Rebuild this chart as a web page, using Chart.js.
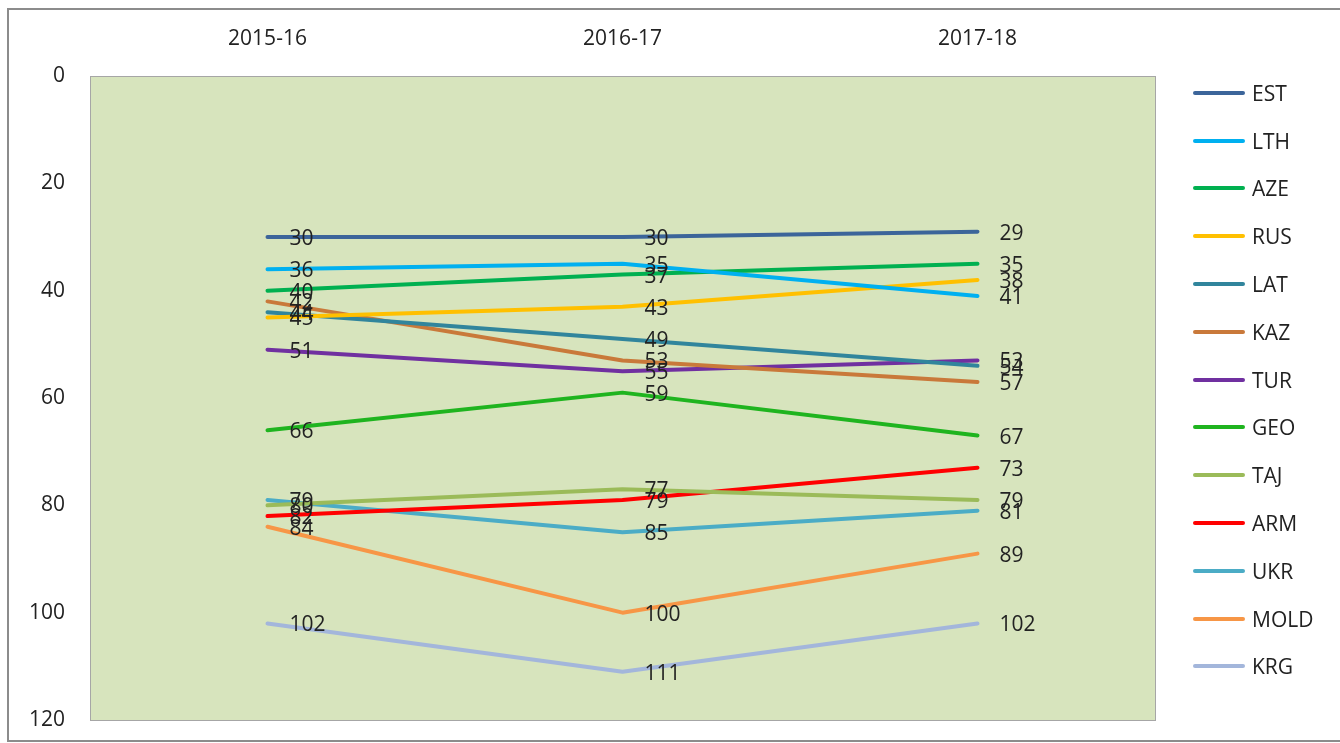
<!DOCTYPE html>
<html>
<head>
<meta charset="utf-8">
<script src="https://cdn.jsdelivr.net/npm/chart.js@4.4.1/dist/chart.umd.min.js"></script>
<style>
  html, body { margin: 0; padding: 0; background: #fff; }
  #wrap { position: relative; width: 1340px; height: 743px; }
  #frame { position: absolute; left: 7px; top: 8px; width: 1340px; height: 734px; border: 2px solid #8c8c8c; box-sizing: border-box; pointer-events: none; }
  #legend { position: absolute; left: 1193px; top: 69px; font-family: "Open Sans", sans-serif; font-size: 21px; color: #222; }
  .item { height: 47.8px; display: flex; align-items: center; }
  .swatch { width: 52px; height: 4px; border-radius: 2px; margin-right: 7px; }
</style>
</head>
<body>
<div id="wrap">
  <canvas id="c" width="1340" height="743"></canvas>
  <div id="frame"></div>
  <div id="legend"></div>
</div>
<script>
const categories = ["2015-16", "2016-17", "2017-18"];
const seriesNames = ["EST", "LTH", "AZE", "RUS", "LAT", "KAZ", "TUR", "GEO", "TAJ", "ARM", "UKR", "MOLD", "KRG"];
const EST  = [30, 30, 29];
const LTH  = [36, 35, 41];
const AZE  = [40, 37, 35];
const RUS  = [45, 43, 38];
const LAT  = [44, 49, 54];
const KAZ  = [42, 53, 57];
const TUR  = [51, 55, 53];
const GEO  = [66, 59, 67];
const TAJ  = [80, 77, 79];
const ARM  = [82, 79, 73];
const UKR  = [79, 85, 81];
const MOLD = [84, 100, 89];
const KRG  = [102, 111, 102];
const seriesValues = [EST, LTH, AZE, RUS, LAT, KAZ, TUR, GEO, TAJ, ARM, UKR, MOLD, KRG];
const yTicks = [0, 20, 40, 60, 80, 100, 120];
const colors = ["#3C659A", "#00B0F0", "#00B050", "#FFC000", "#31859C", "#C9793A", "#7030A0", "#1FB41F", "#9BBB59", "#FF0000", "#4BACC6", "#F79646", "#A3B6DB"];

const FONT = "'Open Sans', sans-serif";

const bgPlugin = {
  id: 'bg',
  beforeDraw(chart) {
    const {ctx, chartArea: a} = chart;
    ctx.save();
    ctx.fillStyle = '#D7E4BD';
    ctx.fillRect(a.left, a.top, a.right - a.left, a.bottom - a.top);
    ctx.strokeStyle = '#a6a6a6';
    ctx.lineWidth = 1;
    ctx.strokeRect(a.left + 0.5, a.top + 0.5, a.right - a.left, a.bottom - a.top);
    ctx.restore();
  }
};

const labelPlugin = {
  id: 'dlabels',
  afterDatasetsDraw(chart) {
    const ctx = chart.ctx;
    ctx.save();
    ctx.font = "21px " + FONT;
    ctx.fillStyle = '#222';
    ctx.textAlign = 'left';
    ctx.textBaseline = 'middle';
    chart.data.datasets.forEach((ds, i) => {
      const meta = chart.getDatasetMeta(i);
      meta.data.forEach((pt, j) => {
        ctx.fillText(String(ds.data[j]), pt.x + 22, pt.y + 2);
      });
    });
    ctx.restore();
  }
};

const datasets = seriesNames.map((n, i) => ({
  label: n,
  data: seriesValues[i],
  borderColor: colors[i],
  backgroundColor: colors[i],
  borderWidth: 4,
  pointRadius: 0,
  tension: 0,
  borderCapStyle: 'round',
  borderJoinStyle: 'round'
}));

new Chart(document.getElementById('c'), {
  type: 'line',
  data: { labels: categories, datasets },
  options: {
    responsive: false,
    animation: false,
    layout: { autoPadding: false, padding: { left: 0, top: 0, right: 185, bottom: 23 } },
    plugins: { legend: { display: false }, tooltip: { enabled: false } },
    scales: {
      x: {
        position: 'top',
        offset: true,
        grid: { display: false, drawTicks: false },
        border: { display: false },
        ticks: { font: { family: FONT, size: 21 }, color: '#222', padding: 24 },
        afterFit(s) { s.height = 76; s.paddingLeft = 0; s.paddingRight = 0; }
      },
      y: {
        reverse: true,
        min: 0, max: 120,
        afterBuildTicks(s) { s.ticks = yTicks.map(v => ({ value: v })); },
        grid: { display: false, drawTicks: false },
        border: { display: false },
        ticks: { font: { family: FONT, size: 21 }, color: '#222', padding: 25 },
        afterFit(s) { s.width = 90; s.paddingTop = 0; s.paddingBottom = 0; }
      }
    }
  },
  plugins: [bgPlugin, labelPlugin]
});

const leg = document.getElementById('legend');
seriesNames.forEach((n, i) => {
  const d = document.createElement('div');
  d.className = 'item';
  d.innerHTML = '<span class="swatch" style="background:' + colors[i] + '"></span><span>' + n + '</span>';
  leg.appendChild(d);
});
</script>
</body>
</html>
